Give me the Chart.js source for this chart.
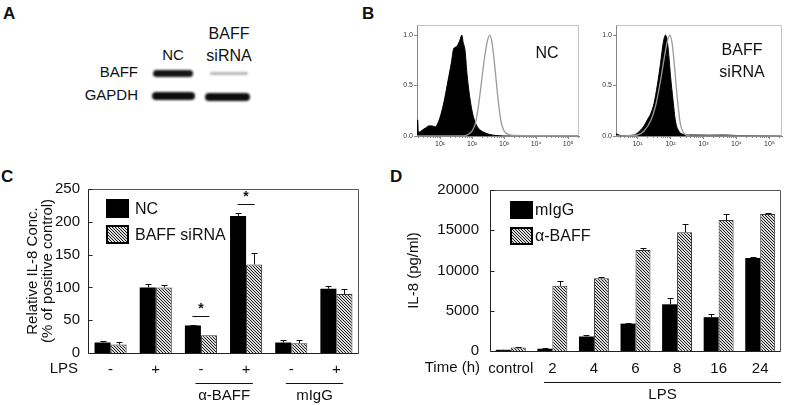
<!DOCTYPE html>
<html>
<head>
<meta charset="utf-8">
<script src="https://cdn.jsdelivr.net/npm/chart.js@4.4.0/dist/chart.umd.min.js"></script>
<style>
  body { margin: 0; width: 787px; height: 405px; position: relative; overflow: hidden; background: #fff;
         font-family: "Liberation Sans", Arial, sans-serif; color: #111; }
  canvas, .t, .L { position: absolute; }
  .t { font-size: 15px; line-height: 1; white-space: nowrap; transform: translate(-50%, -50%); }
  .r { transform: translate(-100%, -50%); }
  .L { font-size: 17px; font-weight: bold; line-height: 1; }
</style>
</head>
<body>
<!-- panel letters -->
<div class="L" style="left:3px;top:5px">A</div>
<div class="L" style="left:362px;top:5px">B</div>
<div class="L" style="left:1px;top:168px">C</div>
<div class="L" style="left:390px;top:168px">D</div>

<!-- panel A: western blot -->
<div class="t" style="left:173px;top:54px">NC</div>
<div class="t" style="left:229px;top:34px;font-size:16px">BAFF</div>
<div class="t" style="left:229px;top:56px;font-size:16px">siRNA</div>
<div class="t r" style="left:138px;top:71px">BAFF</div>
<div class="t r" style="left:138px;top:94px">GAPDH</div>
<canvas id="blot" width="120" height="50" style="left:140px;top:60px"></canvas>

<canvas id="histNC" width="195" height="140" style="left:390px;top:15px"></canvas>
<canvas id="histSi" width="197" height="140" style="left:590px;top:15px"></canvas>
<canvas id="chartC" width="390" height="245" style="left:0;top:160px"></canvas>
<canvas id="chartD" width="392" height="245" style="left:395px;top:160px"></canvas>

<script>
// ----------------------- DATA -----------------------
// panel B: flow histograms, x = log10(fluorescence), y = normalised count
const ncFilledX = [0.28, 0.30, 0.32, 0.36, 0.45, 0.55, 0.65, 0.75, 0.85, 0.95, 1.05, 1.15, 1.25, 1.35, 1.42, 1.48, 1.55, 1.62, 1.68, 1.72, 1.78, 1.84, 1.90, 1.98, 2.06, 2.15, 2.25, 2.38, 2.55, 2.75, 3.0, 5.35];
const ncFilledY = [0, 0.16, 0.04, 0.04, 0.06, 0.08, 0.10, 0.10, 0.09, 0.14, 0.24, 0.38, 0.55, 0.72, 0.86, 0.88, 0.90, 0.95, 1.0, 0.93, 0.85, 0.62, 0.45, 0.28, 0.17, 0.10, 0.06, 0.035, 0.015, 0.005, 0, 0];
const ncOpenX = [0.28, 1.7, 1.9, 2.0, 2.1, 2.2, 2.3, 2.4, 2.5, 2.55, 2.62, 2.7, 2.8, 2.9, 3.0, 3.15, 3.4, 4.0, 5.35];
const ncOpenY = [0, 0, 0.02, 0.05, 0.12, 0.3, 0.55, 0.8, 0.97, 1.0, 0.93, 0.72, 0.4, 0.15, 0.05, 0.015, 0.005, 0.003, 0];
const siFilledX = [0.28, 0.35, 0.5, 0.7, 0.9, 1.0, 1.1, 1.2, 1.3, 1.4, 1.5, 1.6, 1.7, 1.78, 1.85, 1.9, 1.95, 2.0, 2.08, 2.15, 2.25, 2.35, 2.5, 2.8, 3.2, 3.6, 4.0, 5.38];
const siFilledY = [0.01, 0.02, 0.005, 0.005, 0.01, 0.03, 0.06, 0.1, 0.16, 0.22, 0.32, 0.5, 0.72, 0.92, 1.0, 0.95, 0.8, 0.6, 0.35, 0.15, 0.05, 0.02, 0.01, 0.01, 0.008, 0.01, 0.005, 0];
const siOpenX = [0.28, 1.0, 1.2, 1.4, 1.55, 1.7, 1.8, 1.9, 1.98, 2.05, 2.12, 2.2, 2.3, 2.4, 2.6, 5.38];
const siOpenY = [0, 0.01, 0.05, 0.15, 0.3, 0.55, 0.75, 0.93, 1.0, 0.92, 0.7, 0.4, 0.12, 0.03, 0, 0];
const histTicksX = [1, 2, 3, 4, 5];
const histTicksY = [0, 0.5, 1.0];

// panel C: relative IL-8 (% of positive control)
const cLabels = ["-", "+", "-", "+", "-", "+"];
const cNC = [16, 100, 42, 209, 16, 98];
const cNCErr = [3, 5, 1, 5, 4, 4];
const cSi = [13, 100, 27, 135, 15, 90];
const cSiErr = [4, 4, 0, 18, 5, 8];
const cGroupNames = ["α-BAFF", "mIgG"];
const cGroupFrom = [2, 4];
const cGroupTo = [3, 5];
const cSigIdx = [2, 3];
const cSigLevel = [56, 227];

// panel D: IL-8 (pg/ml) over time
const dLabels = ["control", "2", "4", "6", "8", "16", "24"];
const dIgG = [150, 280, 1800, 3400, 5800, 4200, 11550];
const dIgGErr = [30, 60, 200, 80, 820, 400, 100];
const dAnti = [420, 8100, 9030, 12550, 14750, 16270, 17020];
const dAntiErr = [40, 600, 200, 200, 1000, 700, 150];

// ----------------------- UTIL -----------------------
const FONT = '"Liberation Sans", Arial, sans-serif';
const INK = "#111";

function hatch() {
  const p = document.createElement("canvas");
  p.width = 3; p.height = 3;
  const g = p.getContext("2d");
  g.fillStyle = "#dcdcdc";
  g.fillRect(0, 0, 3, 3);
  g.fillStyle = "#1a1a1a";
  for (let i = 0; i < 3; i++) g.fillRect(i, i, 1, 1);
  return g.createPattern(p, "repeat");
}

// error bars: only the upper half, with a small cap
const errorBars = {
  id: "errorBars",
  afterDatasetsDraw(chart, args, opts) {
    const { ctx, scales: { y } } = chart;
    ctx.save();
    ctx.strokeStyle = INK;
    ctx.lineWidth = 1;
    chart.data.datasets.forEach((ds, i) => {
      chart.getDatasetMeta(i).data.forEach((bar, j) => {
        const e = ds.err[j];
        if (!e) return;
        const x = Math.round(bar.x) + 0.5;
        const top = Math.round(y.getPixelForValue(ds.data[j] + e)) + 0.5;
        ctx.beginPath();
        ctx.moveTo(x, bar.y);
        ctx.lineTo(x, top);
        ctx.moveTo(x - opts.cap, top);
        ctx.lineTo(x + opts.cap, top);
        ctx.stroke();
      });
    });
    ctx.restore();
  },
};

// box round the plot with ticks pointing in
const boxFrame = {
  id: "boxFrame",
  afterDraw(chart) {
    const { ctx, chartArea: { left, top, right, bottom }, scales: { y } } = chart;
    const l = Math.round(left) + 0.5, r = Math.round(right) - 0.5;
    const t = Math.round(top) + 0.5, b = Math.round(bottom) + 0.5;
    ctx.save();
    ctx.lineWidth = 1;
    ctx.strokeStyle = "#555";
    ctx.beginPath();
    ctx.moveTo(l, t); ctx.lineTo(r, t); ctx.lineTo(r, b);
    ctx.stroke();
    ctx.strokeStyle = "#222";
    ctx.beginPath();
    ctx.moveTo(l, t); ctx.lineTo(l, b); ctx.lineTo(r, b);
    y.ticks.forEach((tk) => {
      const py = Math.round(y.getPixelForValue(tk.value)) + 0.5;
      ctx.moveTo(l, py);
      ctx.lineTo(l + 4, py);
    });
    ctx.stroke();
    ctx.restore();
  },
};

function drawLegend(ctx, x, y, names, fills, h, gap) {
  ctx.save();
  ctx.font = "16px " + FONT;
  ctx.textBaseline = "middle";
  ctx.textAlign = "left";
  names.forEach((n, i) => {
    const by = y + i * 26;
    ctx.fillStyle = fills[i];
    ctx.fillRect(x, by, 23, h);
    if (i > 0) {
      ctx.lineWidth = 2;
      ctx.strokeStyle = "#000";
      ctx.strokeRect(x + 1, by + 1, 21, h - 2);
    }
    ctx.fillStyle = INK;
    ctx.fillText(n, x + 23 + gap, by + h / 2 + 1);
  });
  ctx.restore();
}

function catWidth(x) {
  return x.getPixelForValue(1) - x.getPixelForValue(0);
}

// ----------------------- PANEL A -----------------------
const blot = document.getElementById("blot").getContext("2d");
blot.filter = "blur(1.1px)";
function band(x0, y0, w, h, color) {
  blot.fillStyle = color;
  blot.beginPath();
  blot.roundRect(x0, y0, w, h, h / 2);
  blot.fill();
}
band(13, 10, 40, 7, "#151515");
band(70, 12, 38, 3, "#b5b5b5");
band(12, 32, 43, 8, "#0d0d0d");
band(65, 33, 45, 8, "#0d0d0d");

// ----------------------- PANEL B -----------------------
function histChart(id, fx, fy, ox, oy, xmin, xmax, yWidth, padRight, texts, textDx, textDy) {
  const supers = { 1: "¹", 2: "²", 3: "³", 4: "⁴", 5: "⁵" };
  const histExtras = {
    id: "histExtras",
    afterDraw(chart) {
      const { ctx, chartArea: { left, top, right, bottom }, scales: { x } } = chart;
      ctx.save();
      ctx.strokeStyle = "#c4c4c4";
      ctx.lineWidth = 1;
      ctx.beginPath();
      ctx.moveTo(Math.round(left) + 0.5, Math.round(top) + 0.5);
      ctx.lineTo(Math.round(right) - 0.5, Math.round(top) + 0.5);
      ctx.lineTo(Math.round(right) - 0.5, Math.round(bottom));
      ctx.stroke();
      // minor log ticks
      ctx.strokeStyle = "#888";
      ctx.beginPath();
      for (let d = 0; d <= 5; d++) {
        for (let m = 2; m <= 9; m++) {
          const v = d + Math.log10(m);
          if (v < xmin || v > xmax) continue;
          const px = Math.round(x.getPixelForValue(v)) + 0.5;
          ctx.moveTo(px, bottom);
          ctx.lineTo(px, bottom + 2);
        }
      }
      ctx.stroke();
      ctx.fillStyle = INK;
      ctx.font = "16px " + FONT;
      ctx.textAlign = "center";
      ctx.textBaseline = "middle";
      texts.forEach((t, i) => ctx.fillText(t, left + textDx, top + textDy + i * 22));
      ctx.restore();
    },
  };
  const tickFont = { family: FONT, size: 7 };
  return new Chart(document.getElementById(id), {
    type: "line",
    data: {
      datasets: [
        {
          data: ox.map((v, i) => ({ x: v, y: oy[i] })),
          borderColor: "#9a9a9a",
          borderWidth: 1.3,
          pointRadius: 0,
          cubicInterpolationMode: "monotone",
          fill: false,
        },
        {
          data: fx.map((v, i) => ({ x: v, y: fy[i] })),
          borderColor: "#000",
          backgroundColor: "#000",
          borderWidth: 1,
          pointRadius: 0,
          cubicInterpolationMode: "monotone",
          fill: "origin",
        },
      ],
    },
    options: {
      responsive: false,
      animation: false,
      layout: { padding: { left: 0, top: 10, right: padRight, bottom: 0 } },
      plugins: { legend: { display: false }, tooltip: { enabled: false } },
      scales: {
        x: {
          type: "linear", min: xmin, max: xmax,
          afterBuildTicks: (s) => { s.ticks = histTicksX.map((v) => ({ value: v })); },
          ticks: { font: tickFont, color: "#333", padding: 1, maxRotation: 0,
                   callback: (v) => "10" + supers[v] },
          grid: { drawOnChartArea: false, tickLength: 3, color: "#888" },
          border: { color: "#888" },
          afterFit(s) { s.height = 19; },
        },
        y: {
          min: 0, max: 1.1,
          afterBuildTicks: (s) => { s.ticks = histTicksY.map((v) => ({ value: v })); },
          ticks: { font: tickFont, color: "#333", padding: 1, callback: (v) => v.toFixed(1) },
          grid: { drawOnChartArea: false, tickLength: 3, color: "#888" },
          border: { color: "#888" },
          afterFit(s) { s.width = yWidth; },
        },
      },
    },
    plugins: [histExtras],
  });
}

histChart("histNC", ncFilledX, ncFilledY, ncOpenX, ncOpenY, 0.28, 5.34, 27, 6, ["NC"], 130, 29);
histChart("histSi", siFilledX, siFilledY, siOpenX, siOpenY, 0.35, 5.38, 26, 5, ["BAFF", "siRNA"], 126, 26);

// ----------------------- PANEL C -----------------------
const cExtras = {
  id: "cExtras",
  afterDraw(chart) {
    const { ctx, chartArea: { left, top, bottom }, scales: { x, y } } = chart;
    const w = catWidth(x);
    ctx.save();
    ctx.fillStyle = INK;
    ctx.strokeStyle = INK;
    ctx.lineWidth = 1;
    ctx.font = "15px " + FONT;
    ctx.textBaseline = "middle";
    ctx.textAlign = "right";
    ctx.fillText("LPS", left - 10, bottom + 16);
    ctx.textAlign = "center";
    cGroupNames.forEach((name, i) => {
      const x0 = x.getPixelForValue(cGroupFrom[i]) - 0.12 * w;
      const x1 = x.getPixelForValue(cGroupTo[i]) + 0.15 * w;
      ctx.beginPath();
      ctx.moveTo(x0, bottom + 30.5);
      ctx.lineTo(x1, bottom + 30.5);
      ctx.stroke();
      ctx.fillText(name, (x0 + x1) / 2, bottom + 43);
    });
    // significance
    ctx.font = "bold 14px " + FONT;
    cSigIdx.forEach((c, i) => {
      const cx = x.getPixelForValue(c);
      const py = Math.round(y.getPixelForValue(cSigLevel[i])) + 0.5;
      ctx.beginPath();
      ctx.moveTo(cx - 8.5, py);
      ctx.lineTo(cx + 8.5, py);
      ctx.stroke();
      ctx.fillText("*", cx, py - 7);
    });
    drawLegend(ctx, left + 18, top + 10, ["NC", "BAFF siRNA"], ["#000", chart.data.datasets[1].backgroundColor], 19, 6);
    ctx.restore();
  },
};

const tickFont = { family: FONT, size: 15 };

new Chart(document.getElementById("chartC"), {
  type: "bar",
  data: {
    labels: cLabels,
    datasets: [
      { label: "NC", data: cNC, err: cNCErr, backgroundColor: "#000", borderWidth: 0 },
      { label: "BAFF siRNA", data: cSi, err: cSiErr, backgroundColor: hatch(), borderColor: "#333", borderWidth: 1 },
    ],
  },
  options: {
    responsive: false,
    animation: false,
    layout: { padding: { left: 25, top: 29, right: 31, bottom: 0 } },
    datasets: { bar: { categoryPercentage: 0.71, barPercentage: 1 } },
    plugins: { legend: { display: false }, tooltip: { enabled: false }, errorBars: { cap: 3 } },
    scales: {
      x: {
        grid: { display: false, drawTicks: false }, border: { display: false },
        ticks: { font: tickFont, color: INK, padding: 8, autoSkip: false, maxRotation: 0 },
        afterFit(s) { s.height = 52; },
      },
      y: {
        min: 0, max: 250,
        ticks: { stepSize: 50, font: tickFont, color: INK, padding: 8 },
        grid: { display: false, drawTicks: false }, border: { display: false },
        title: { display: true, text: ["Relative IL-8 Conc.", "(% of positive control)"],
                 font: { family: FONT, size: 15, lineHeight: 1.0 }, color: INK, padding: 0 },
        afterFit(s) { s.width = 63; },
      },
    },
  },
  plugins: [errorBars, boxFrame, cExtras],
});

// ----------------------- PANEL D -----------------------
const dExtras = {
  id: "dExtras",
  afterDraw(chart) {
    const { ctx, chartArea: { left, top, bottom }, scales: { x } } = chart;
    const w = catWidth(x);
    ctx.save();
    ctx.fillStyle = INK;
    ctx.strokeStyle = INK;
    ctx.lineWidth = 1;
    ctx.font = "15px " + FONT;
    ctx.textBaseline = "middle";
    ctx.textAlign = "right";
    ctx.fillText("Time (h)", left - 10, bottom + 17);
    const x0 = x.getPixelForValue(1) - 0.2 * w;
    const x1 = x.getPixelForValue(dLabels.length - 1) + 0.5 * w;
    ctx.beginPath();
    ctx.moveTo(x0, bottom + 31.5);
    ctx.lineTo(x1, bottom + 31.5);
    ctx.stroke();
    ctx.textAlign = "center";
    ctx.fillText("LPS", (x0 + x1) / 2, bottom + 44);
    drawLegend(ctx, left + 20, top + 11, ["mIgG", "α-BAFF"], ["#000", chart.data.datasets[1].backgroundColor], 18, 2);
    ctx.restore();
  },
};

new Chart(document.getElementById("chartD"), {
  type: "bar",
  data: {
    labels: dLabels,
    datasets: [
      { label: "mIgG", data: dIgG, err: dIgGErr, backgroundColor: "#000", borderWidth: 0 },
      { label: "α-BAFF", data: dAnti, err: dAntiErr, backgroundColor: hatch(), borderColor: "#333", borderWidth: 1 },
    ],
  },
  options: {
    responsive: false,
    animation: false,
    layout: { padding: { left: 10, top: 30, right: 6, bottom: 0 } },
    datasets: { bar: { categoryPercentage: 0.72, barPercentage: 1 } },
    plugins: { legend: { display: false }, tooltip: { enabled: false }, errorBars: { cap: 3 } },
    scales: {
      x: {
        grid: { display: false, drawTicks: false }, border: { display: false },
        ticks: { font: tickFont, color: INK, padding: 9, autoSkip: false, maxRotation: 0 },
        afterFit(s) { s.height = 54; },
      },
      y: {
        min: 0, max: 20000,
        ticks: { stepSize: 5000, font: tickFont, color: INK, padding: 11, callback: (v) => String(v) },
        grid: { display: false, drawTicks: false }, border: { display: false },
        title: { display: true, text: "IL-8 (pg/ml)", font: { family: FONT, size: 15 }, color: INK, padding: 0 },
        afterFit(s) { s.width = 85; },
      },
    },
  },
  plugins: [errorBars, boxFrame, dExtras],
});
</script>
</body>
</html>
